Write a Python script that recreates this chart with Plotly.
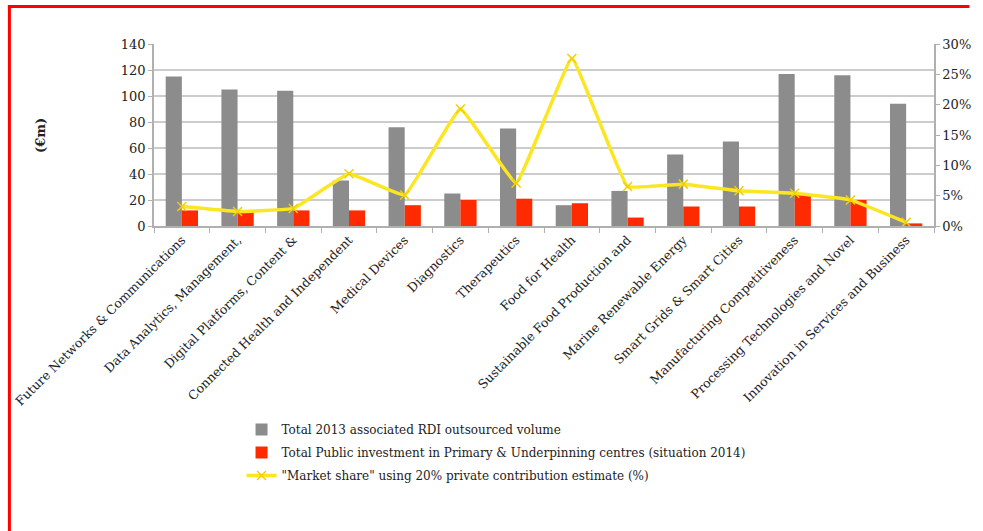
import plotly.graph_objects as go

categories = [
    "Future Networks & Communications",
    "Data Analytics, Management,",
    "Digital Platforms, Content &",
    "Connected Health and Independent",
    "Medical Devices",
    "Diagnostics",
    "Therapeutics",
    "Food for Health",
    "Sustainable Food Production and",
    "Marine Renewable Energy",
    "Smart Grids & Smart Cities",
    "Manufacturing Competitiveness",
    "Processing Technologies and Novel",
    "Innovation in Services and Business",
]
rdi_outsourced = [115, 105, 104, 35, 76, 25, 75, 16, 27, 55, 65, 117, 116, 94]
public_investment = [12, 11, 12, 12, 16, 20, 21, 17.5, 6.5, 15, 15, 24, 20, 2]
market_share = [0.032, 0.024, 0.029, 0.086, 0.051, 0.193, 0.071, 0.276,
                 0.065, 0.069, 0.058, 0.054, 0.043, 0.006]

FONT = "DejaVu Serif"
GRID = "#cccccc"

fig = go.Figure()
fig.add_trace(go.Bar(
    x=categories, y=rdi_outsourced, legendgroup="a",
    name="Total 2013 associated RDI outsourced volume",
    marker=dict(color="#8c8c8c", line=dict(width=0)),
))
fig.add_trace(go.Bar(
    x=categories, y=public_investment, legendgroup="b",
    name="Total Public investment in Primary & Underpinning centres (situation 2014)",
    marker=dict(color="#ff2a00", line=dict(width=0)),
))
fig.add_trace(go.Scatter(
    x=categories, y=market_share, yaxis="y2", legendgroup="c",
    name="\"Market share\" using 20% private contribution estimate (%)",
    mode="lines+markers",
    line=dict(color="#fbe621", width=3.5, shape="spline", smoothing=0.25),
    marker=dict(symbol="x-thin", size=9, color="#fbe621",
                line=dict(color="#f0d000", width=1.5)),
))

# plot area spans pixels x 154..947, y 44..226
W, H = 983, 531
L, R, T, B = 154, 36, 44, 305
pw, ph = W - L - R, H - T - B


def px(x):
    return (x - L) / pw


def py(y):
    return (H - B - y) / ph


fig.update_layout(
    width=W, height=H,
    margin=dict(l=L, r=R, t=T, b=B),
    paper_bgcolor="white", plot_bgcolor="white",
    font=dict(family=FONT, size=12, color="#222222"),
    barmode="group", bargap=0.42, bargroupgap=0,
    showlegend=True,
    legend=dict(
        x=px(243), y=py(415), xanchor="left", yanchor="top",
        font=dict(family=FONT, size=12, color="#222222"),
        bgcolor="rgba(0,0,0,0)", traceorder="grouped", tracegroupgap=4,
        itemwidth=30,
    ),
    xaxis=dict(
        type="category", range=[-0.5, len(categories) - 0.5],
        tickangle=-45, tickson="boundaries",
        ticks="outside", ticklen=5, tickcolor="#b0b0b0",
        showline=True, linecolor="#b0b0b0", linewidth=1.5,
        showgrid=False, tickfont=dict(family=FONT, size=12.5, color="#222222"),
    ),
    yaxis=dict(
        range=[0, 140], dtick=20, showgrid=True, gridcolor=GRID, gridwidth=1.5,
        showline=True, linecolor="#b0b0b0", linewidth=1.5,
        ticks="outside", ticklen=4, tickcolor="#b0b0b0",
        tickfont=dict(family=FONT, size=13, color="#222222"),
        zeroline=False,
    ),
    yaxis2=dict(
        range=[0, 0.30], dtick=0.05, tickformat=".0%", overlaying="y",
        side="right", showgrid=False, showline=True, linecolor="#b0b0b0",
        linewidth=1.5, ticks="outside", ticklen=4, tickcolor="#b0b0b0",
        tickfont=dict(family=FONT, size=13, color="#222222"), zeroline=False,
    ),
    annotations=[dict(
        text="<b>(€m)</b>", textangle=-90, x=px(38), y=py(135),
        xref="paper", yref="paper", xanchor="center", yanchor="middle",
        showarrow=False,
        font=dict(family=FONT, size=13, color="#222222"),
    )],
    shapes=[
        dict(type="line", xref="paper", yref="paper",
             x0=px(7), x1=px(7), y0=py(5), y1=py(531),
             line=dict(color="#ff0000", width=3)),
        dict(type="line", xref="paper", yref="paper",
             x0=px(5.5), x1=px(983), y0=py(6.5), y1=py(6.5),
             line=dict(color="#ff0000", width=3)),
    ],
)

fig.write_html("out.html")
